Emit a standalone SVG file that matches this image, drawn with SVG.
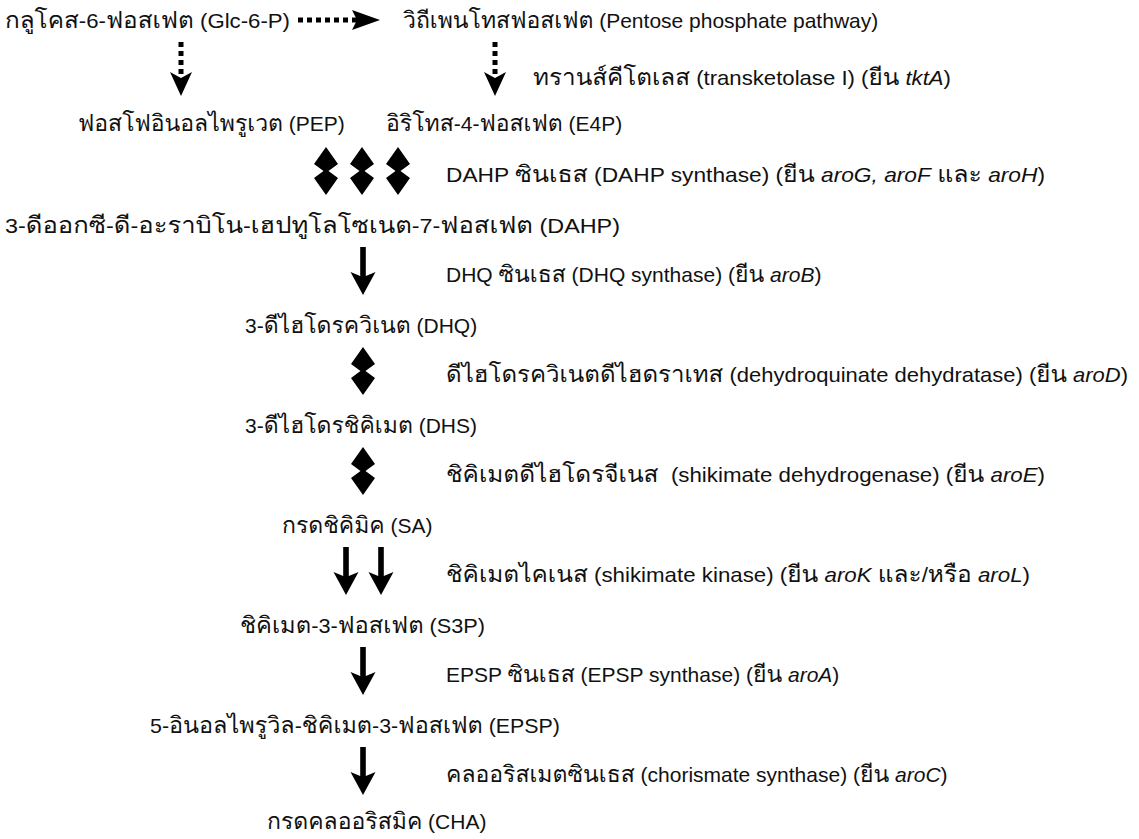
<svg xmlns="http://www.w3.org/2000/svg" width="1139" height="839" viewBox="0 0 1139 839">
<style>
text{font-family:"Liberation Sans",Arial,sans-serif;font-size:21px;fill:#111}
.t{font-family:"Loma","Garuda","Tahoma","Noto Sans Thai Looped","Noto Sans Thai",sans-serif;font-size:23px}
.i{font-style:italic}
.ar{fill:#000}
.dot{stroke:#000;stroke-width:5;stroke-dasharray:5 4;fill:none}
</style>
<defs>
<path id="dbl" d="M0,-24 L12,-7 L2.5,0 L12,7 L0,24 L-12,7 L-2.5,0 L-12,-7 Z"/>
<path id="sgl" d="M-2.8,-24 L2.8,-24 L2.8,5 L12.5,1 L0,24 L-12.5,1 L-2.8,5 Z"/>
</defs>
<rect width="1139" height="839" fill="#fff"/>
<g id="connectors" class="ar">
<line class="dot" x1="298" y1="20" x2="358" y2="20"/>
<path d="M352,10 L380,20 L352,30 L357,20 Z"/>
<line class="dot" x1="181" y1="42" x2="181" y2="76"/>
<path d="M170,72 L181,96 L192,72 L181,78 Z"/>
<line class="dot" x1="495" y1="42" x2="495" y2="76"/>
<path d="M484,72 L495,96 L506,72 L495,78 Z"/>
<use href="#dbl" x="326" y="171"/>
<use href="#dbl" x="362" y="171"/>
<use href="#dbl" x="398" y="171"/>
<use href="#sgl" x="363" y="271"/>
<use href="#dbl" x="363" y="371"/>
<use href="#dbl" x="363" y="471"/>
<use href="#sgl" x="346" y="571"/>
<use href="#sgl" x="381" y="571"/>
<use href="#sgl" x="363" y="671"/>
<use href="#sgl" x="363" y="771"/>
</g>
<g id="glc6p"><text x="5" y="28" textLength="285" lengthAdjust="spacingAndGlyphs"><tspan class="t">กลูโคส</tspan>-6-<tspan class="t">ฟอสเฟต</tspan> (Glc-6-P)</text></g>
<g id="ppp"><text x="403" y="28"><tspan class="t">วิถีเพนโทสฟอสเฟต</tspan> (Pentose phosphate pathway)</text></g>
<g id="tkt"><text x="533" y="85" textLength="418" lengthAdjust="spacingAndGlyphs"><tspan class="t">ทรานส์คีโตเลส</tspan> (transketolase I) (<tspan class="t">ยีน</tspan> <tspan class="i">tktA</tspan>)</text></g>
<g id="pep"><text x="78" y="131"><tspan class="t">ฟอสโฟอินอลไพรูเวต</tspan> (PEP)</text></g>
<g id="e4p"><text x="386" y="131"><tspan class="t">อิริโทส</tspan>-4-<tspan class="t">ฟอสเฟต</tspan> (E4P)</text></g>
<g id="dahps"><text x="446" y="182" textLength="599" lengthAdjust="spacingAndGlyphs">DAHP <tspan class="t">ซินเธส</tspan> (DAHP synthase) (<tspan class="t">ยีน</tspan> <tspan class="i">aroG, aroF</tspan> <tspan class="t">และ</tspan> <tspan class="i">aroH</tspan>)</text></g>
<g id="dahp"><text x="5" y="233" textLength="615" lengthAdjust="spacingAndGlyphs">3-<tspan class="t">ดีออกซี</tspan>-<tspan class="t">ดี</tspan>-<tspan class="t">อะราบิโน</tspan>-<tspan class="t">เฮปทูโลโซเนต</tspan>-7-<tspan class="t">ฟอสเฟต</tspan> (DAHP)</text></g>
<g id="dhqs"><text x="446" y="282">DHQ <tspan class="t">ซินเธส</tspan> (DHQ synthase) (<tspan class="t">ยีน</tspan> <tspan class="i">aroB</tspan>)</text></g>
<g id="dhq"><text x="245" y="333">3-<tspan class="t">ดีไฮโดรควิเนต</tspan> (DHQ)</text></g>
<g id="arod"><text x="446" y="382" textLength="682" lengthAdjust="spacingAndGlyphs"><tspan class="t">ดีไฮโดรควิเนตดีไฮดราเทส</tspan> (dehydroquinate dehydratase) (<tspan class="t">ยีน</tspan> <tspan class="i">aroD</tspan>)</text></g>
<g id="dhs"><text x="245" y="433">3-<tspan class="t">ดีไฮโดรชิคิเมต</tspan> (DHS)</text></g>
<g id="aroe"><text x="446" y="482" xml:space="preserve" textLength="599" lengthAdjust="spacingAndGlyphs"><tspan class="t">ชิคิเมตดีไฮโดรจีเนส</tspan>  (shikimate dehydrogenase) (<tspan class="t">ยีน</tspan> <tspan class="i">aroE</tspan>)</text></g>
<g id="sa"><text x="282" y="533"><tspan class="t">กรดชิคิมิค</tspan> (SA)</text></g>
<g id="arok"><text x="446" y="582" textLength="584" lengthAdjust="spacingAndGlyphs"><tspan class="t">ชิคิเมตไคเนส</tspan> (shikimate kinase) (<tspan class="t">ยีน</tspan> <tspan class="i">aroK</tspan> <tspan class="t">และ</tspan>/<tspan class="t">หรือ</tspan> <tspan class="i">aroL</tspan>)</text></g>
<g id="s3p"><text x="240" y="633" textLength="245" lengthAdjust="spacingAndGlyphs"><tspan class="t">ชิคิเมต</tspan>-3-<tspan class="t">ฟอสเฟต</tspan> (S3P)</text></g>
<g id="aroa"><text x="446" y="682">EPSP <tspan class="t">ซินเธส</tspan> (EPSP synthase) (<tspan class="t">ยีน</tspan> <tspan class="i">aroA</tspan>)</text></g>
<g id="epsp"><text x="150" y="733" textLength="410" lengthAdjust="spacingAndGlyphs">5-<tspan class="t">อินอลไพรูวิล</tspan>-<tspan class="t">ชิคิเมต</tspan>-3-<tspan class="t">ฟอสเฟต</tspan> (EPSP)</text></g>
<g id="aroc"><text x="446" y="782"><tspan class="t">คลออริสเมตซินเธส</tspan> (chorismate synthase) (<tspan class="t">ยีน</tspan> <tspan class="i">aroC</tspan>)</text></g>
<g id="cha"><text x="267" y="829"><tspan class="t">กรดคลออริสมิค</tspan> (CHA)</text></g>
</svg>
